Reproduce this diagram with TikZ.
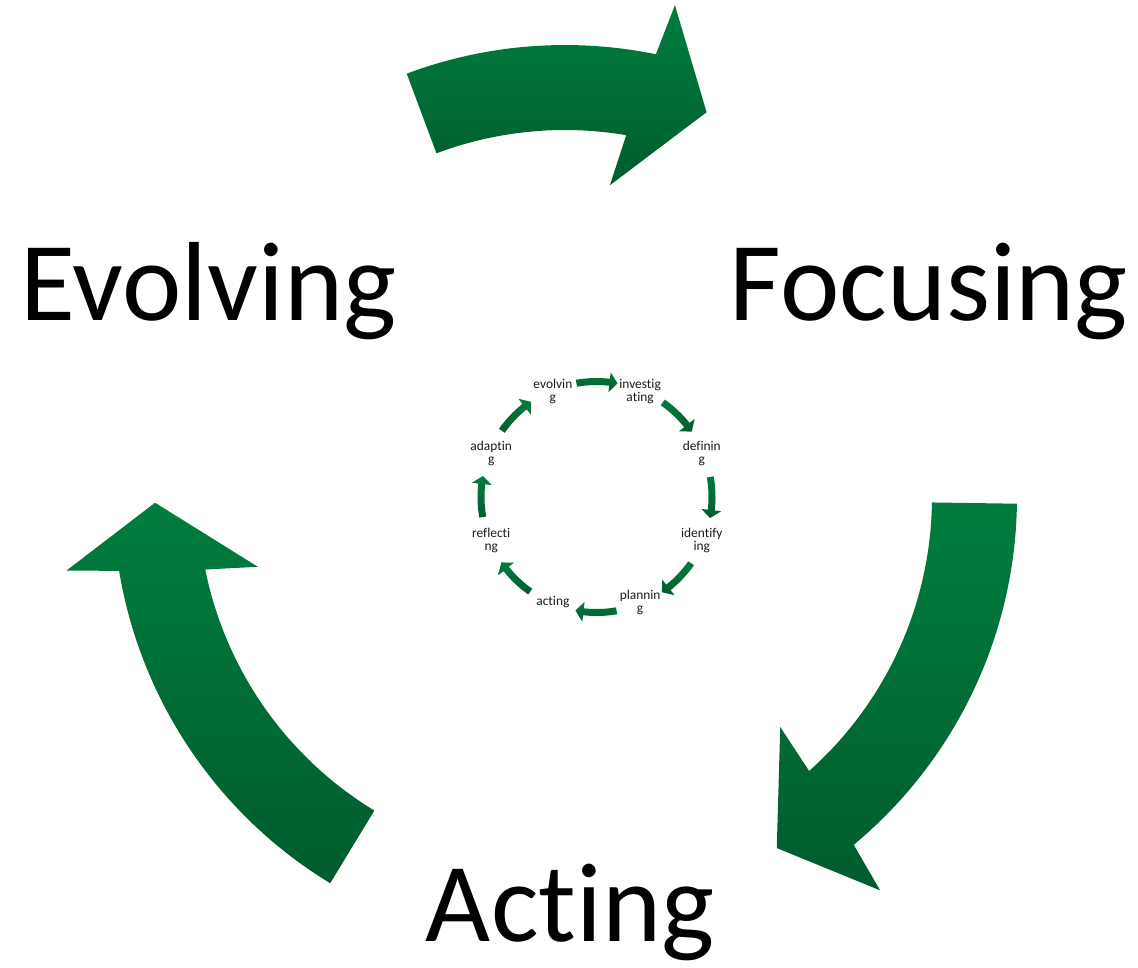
\documentclass[tikz,border=0pt]{standalone}
\usepackage{fontspec}
\setmainfont{Carlito}[Ligatures={NoCommon,NoContextual,NoRequired}]
\usetikzlibrary{calc}
\definecolor{agreenA}{RGB}{0,125,62}
\definecolor{agreenB}{RGB}{0,92,45}
\newcommand\nl{\kern0pt }
\newcommand\bigcyclearrow[2]{%
  \shade[arrshade] ($(C)+(#1:452)$) arc[start angle={#1}, end angle={#2+8.6}, radius=452]
   -- ($(C)+({#2+7.6}:504)$) -- ($(C)+({#2}:410)$) -- ($(C)+({#2+12}:315)$)
   -- ($(C)+({#2+10.6}:367)$) arc[start angle={#2+10.6}, end angle={#1}, radius=367] -- cycle;}
\newcommand\smallcyclearrow[1]{%
  \shade[arrshade] ($(S)+({#1+10}:119)$) arc[start angle={#1+10}, end angle={#1-6.5}, radius=119]
   -- ($(S)+({#1-6.5}:125.5)$) -- ($(S)+({#1-10.5}:115.5)$) -- ($(S)+({#1-6.5}:105.5)$)
   -- ($(S)+({#1-6.5}:112)$) arc[start angle={#1-6.5}, end angle={#1+10}, radius=112] -- cycle;}
\begin{document}
\begin{tikzpicture}[x=1pt,y=1pt,
  arrshade/.style={top color=agreenA, bottom color=agreenB, draw=none},
  bigtext/.style={font=\fontsize{112.5}{135}\selectfont, inner sep=0pt, anchor=base},
  smalltext/.style={font=\fontsize{13.4}{13.5}\selectfont, align=center, inner sep=0pt, text=black!90}]
\useasboundingbox (0,0) rectangle (1138,-967);
\coordinate (C) at (565,-497);
\coordinate (S) at (596.5,-497);
% big cycle arrows
\bigcyclearrow{110.5}{69.8}
\bigcyclearrow{-0.85}{-58.9}
\bigcyclearrow{238.7}{180.8}
% big labels
\node[bigtext] (evolving) at (208.5,-320) {Evolving};
\node[bigtext] (focusing) at (929,-320) {Focusing};
\node[bigtext] (acting) at (570,-941) {Ac\nl t\nl ing};
% small cycle arrows
\foreach \c in {90,45,0,-45,-90,-135,-180,-225}{\smallcyclearrow{\c}}
% small labels
\node[smalltext] (s1) at ($(S)+(112.5:114)$) {evolvin\\g};
\node[smalltext] (s2) at ($(S)+(67.5:114)$) {investig\\a\nl t\nl ing};
\node[smalltext] (s3) at ($(S)+(22.5:114)$) {definin\\g};
\node[smalltext] (s4) at ($(S)+(-22.5:114)$) {identify\\ing};
\node[smalltext] (s5) at ($(S)+(-67.5:114)$) {plannin\\g};
\node[smalltext] (s6) at ($(S)+(-112.5:114)$) {ac\nl t\nl ing};
\node[smalltext] (s7) at ($(S)+(-157.5:114)$) {reflec\nl t\nl i\\ng};
\node[smalltext] (s8) at ($(S)+(157.5:114)$) {adap\nl t\nl in\\g};
\end{tikzpicture}
\end{document}
